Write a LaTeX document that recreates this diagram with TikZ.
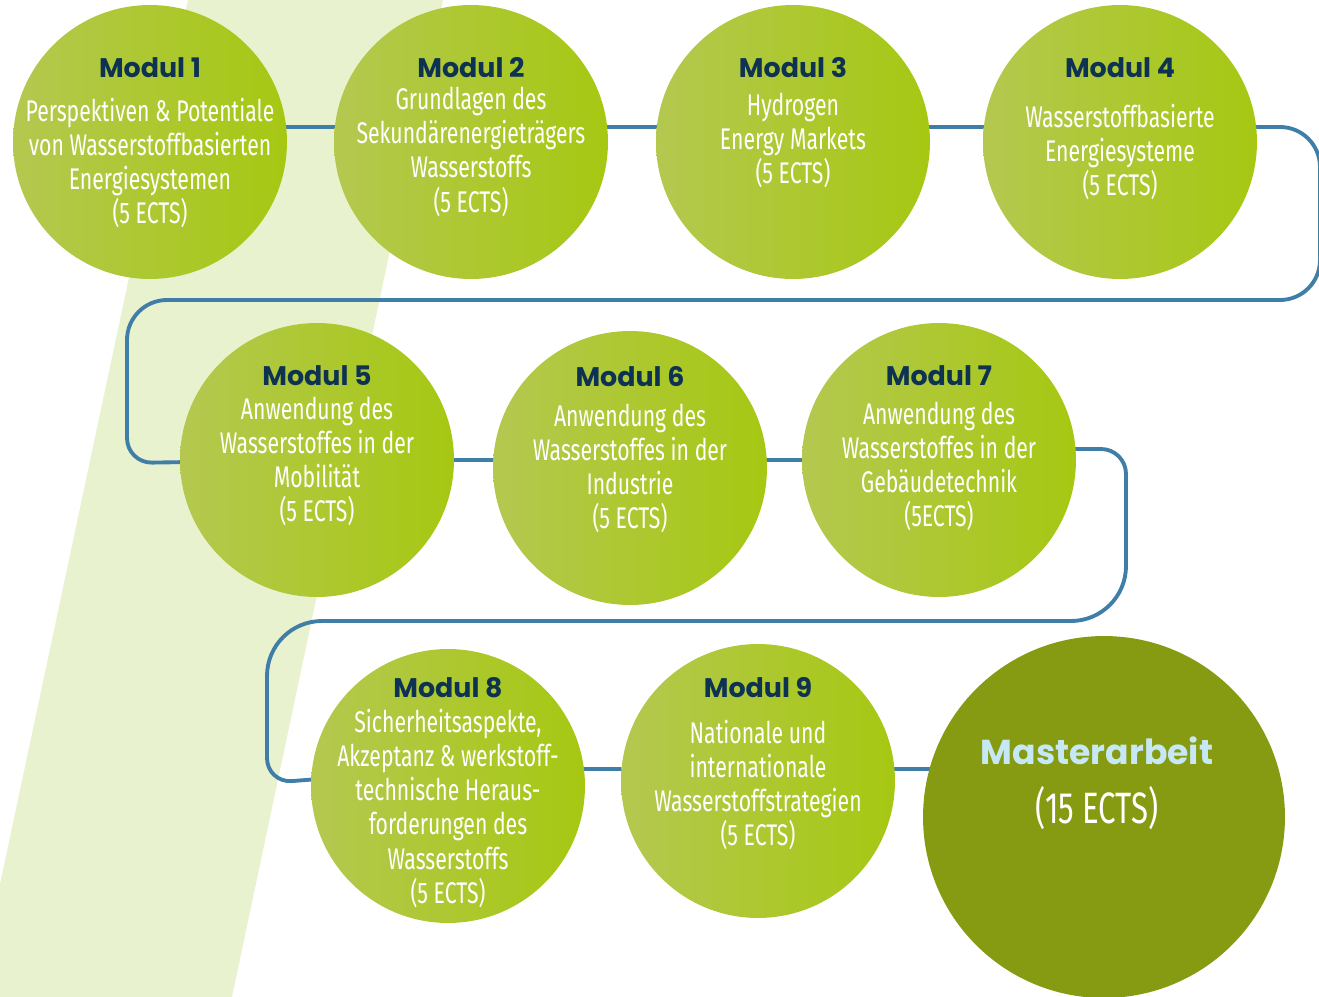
\documentclass[tikz,border=0pt]{standalone}
\usepackage{fontspec}
\usepackage{xcolor}
\usepackage{tikz}
\usetikzlibrary{positioning}
\newfontfamily\titelfont{Poppins}
\newfontfamily\modulfont[FakeStretch=0.71]{Fira Sans}

\definecolor{stripe}{RGB}{233,242,207}
\definecolor{linie}{RGB}{63,126,166}
\definecolor{gruenL}{RGB}{180,200,80}
\definecolor{gruenR}{RGB}{166,200,18}
\definecolor{oliv}{RGB}{134,155,18}
\definecolor{navy}{RGB}{14,50,82}
\definecolor{hellblau}{RGB}{198,232,245}

\pgfdeclarelayer{bg}
\pgfdeclarelayer{lines}
\pgfsetlayers{bg,lines,main}

\tikzstyle{modul} = [circle,inner sep=0pt,minimum size=5.48cm,left color=gruenL,right color=gruenR]
\tikzstyle{titel} = [inner sep=0pt,text=navy,font=\titelfont\bfseries\fontsize{15.3}{18}\selectfont]
\tikzstyle{body} = [inner sep=0pt,text=white,align=center,font=\modulfont\fontsize{17}{19.4}\selectfont]
\tikzstyle{conn} = [line width=2.2pt,draw=linie]

\begin{document}
\begin{tikzpicture}[x=0.02cm,y=-0.02cm]
	\useasboundingbox (0,0) rectangle (1319,997);

	%Background
	\begin{pgfonlayer}{bg}
		\fill[stripe] (188,0) -- (443,0) -- (232,997) -- (-24,997) -- cycle;
	\end{pgfonlayer}

	%Nodes
	\coordinate (r1) at (0,127);
	\coordinate (r2) at (0,460);
	\coordinate (r2b) at (0,449);
	\coordinate (r3) at (0,769);

	\node[modul] (m1) at (150,142) {};
	\node[modul] (m2) at (471,142) {};
	\node[modul] (m3) at (793,142) {};
	\node[modul] (m4) at (1120,142) {};
	\node[modul] (m5) at (317,460) {};
	\node[modul] (m6) at (630,468) {};
	\node[modul] (m7) at (939,460) {};
	\node[modul] (m8) at (448,786) {};
	\node[modul] (m9) at (758,781) {};
	\node[circle,inner sep=0pt,minimum size=7.24cm,fill=oliv] (master) at (1104,817) {};

	\node[titel] (t1) at ([yshift=1.48cm]m1.center) {Modul 1};
	\node[body, below=0.38cm of t1] (b1) {Perspektiven \& Potentiale\\von Wasserstoffbasierten\\Energiesystemen\\(5 ECTS)};
	\node[titel] (t2) at ([yshift=1.48cm]m2.center) {Modul 2};
	\node[body, below=0.17cm of t2] (b2) {Grundlagen des\\Sekundärenergieträgers\\Wasserstoffs\\(5 ECTS)};
	\node[titel] (t3) at ([yshift=1.48cm]m3.center) {Modul 3};
	\node[body, below=0.29cm of t3] (b3) {Hydrogen\\Energy Markets\\(5 ECTS)};
	\node[titel] (t4) at ([yshift=1.48cm]m4.center) {Modul 4};
	\node[body, below=0.51cm of t4] (b4) {Wasserstoffbasierte\\Energiesysteme\\(5 ECTS)};

	\node[titel] (t5) at ([yshift=1.68cm]m5.center) {Modul 5};
	\node[body, below=0.21cm of t5] (b5) {Anwendung des\\Wasserstoffes in der\\Mobilität\\(5 ECTS)};
	\node[titel] (t6) at ([yshift=1.82cm]m6.center) {Modul 6};
	\node[body, below=0.33cm of t6] (b6) {Anwendung des\\Wasserstoffes in der\\Industrie\\(5 ECTS)};
	\node[titel] (t7) at ([yshift=1.68cm]m7.center) {Modul 7};
	\node[body, below=0.31cm of t7] (b7) {Anwendung des\\Wasserstoffes in der\\Gebäudetechnik\\(5ECTS)};

	\node[titel] (t8) at ([yshift=1.96cm]m8.center) {Modul 8};
	\node[body, below=0.21cm of t8] (b8) {Sicherheitsaspekte,\\Akzeptanz \& werkstoff-\\technische Heraus-\\forderungen des\\Wasserstoffs\\(5 ECTS)};
	\node[titel] (t9) at ([yshift=1.86cm]m9.center) {Modul 9};
	\node[body, below=0.43cm of t9] (b9) {Nationale und\\internationale\\Wasserstoffstrategien\\(5 ECTS)};

	\node[titel, text=hellblau, font=\titelfont\bfseries\fontsize{19.7}{23}\selectfont] (tm) at ([xshift=-0.14cm,yshift=1.32cm]master.center) {Masterarbeit};
	\node[body, font=\modulfont\fontsize{25}{29}\selectfont, below=0.42cm of tm] (bm) {(15 ECTS)};

	%Lines
	\begin{pgfonlayer}{lines}
		\draw[conn] (m1 |- r1) -- (m2 |- r1);
		\draw[conn] (m2 |- r1) -- (m3 |- r1);
		\draw[conn] (m3 |- r1) -- (m4 |- r1);
		\draw[conn,rounded corners=0.8cm] (m4 |- r1) -- (1320,127) -- (1320,300) -- (127,300) [rounded corners=0.5cm] -- (127,463) -- (m5 |- r2);
		\draw[conn] (m5 |- r2) -- (m6 |- r2);
		\draw[conn] (m6 |- r2) -- (m7 |- r2);
		\draw[conn,rounded corners=0.5cm] (m7 |- r2b) -- (1126,449) [rounded corners=1.1cm] -- (1126,621) -- (267,621) [rounded corners=0.5cm] -- (267,783) -- (m8 |- r3);
		\draw[conn] (m8 |- r3) -- (m9 |- r3);
		\draw[conn] (m9 |- r3) -- (master |- r3);
	\end{pgfonlayer}
\end{tikzpicture}
\end{document}
